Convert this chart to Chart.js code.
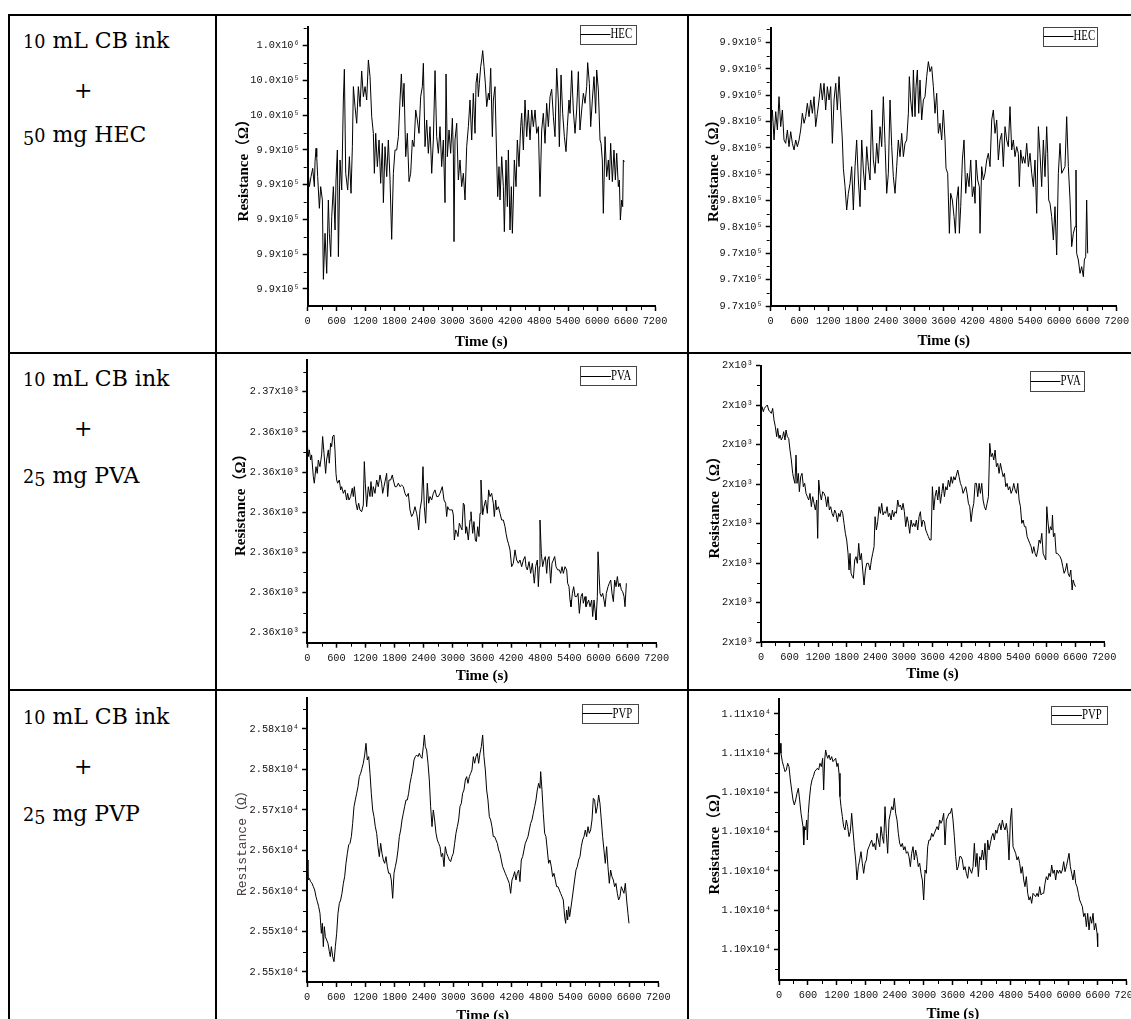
<!DOCTYPE html>
<html><head><meta charset="utf-8">
<script src="https://cdn.jsdelivr.net/npm/chart.js"></script>
<style>
html,body{margin:0;padding:0;background:#fff;}
body{width:1131px;height:1019px;position:relative;overflow:hidden;}
.ln{position:absolute;background:#000;}
.t{position:absolute;left:23px;font-family:'DejaVu Serif',serif;font-size:22px;line-height:22px;white-space:nowrap;color:#000;}
.os{font-size:0.8em;}
.dn{position:relative;top:0.17em;}
canvas{position:absolute;}
</style></head>
<body>
<div class="ln" style="left:8px;top:14px;width:1123px;height:2px"></div>
<div class="ln" style="left:8px;top:352px;width:1123px;height:2px"></div>
<div class="ln" style="left:8px;top:689px;width:1123px;height:2px"></div>
<div class="ln" style="left:8px;top:14px;width:2px;height:1005px"></div>
<div class="ln" style="left:215px;top:14px;width:2px;height:1005px"></div>
<div class="ln" style="left:687px;top:14px;width:2px;height:1005px"></div>

<div class="t" style="top:30px"><span class="os">10</span> mL CB ink</div>
<div class="t" style="top:80px;left:74px">+</div>
<div class="t" style="top:124px"><span class="os"><span class="dn">5</span>0</span> mg HEC</div>

<div class="t" style="top:368px"><span class="os">10</span> mL CB ink</div>
<div class="t" style="top:418px;left:74px">+</div>
<div class="t" style="top:465px"><span class="os">2<span class="dn">5</span></span> mg PVA</div>

<div class="t" style="top:706px"><span class="os">10</span> mL CB ink</div>
<div class="t" style="top:756px;left:74px">+</div>
<div class="t" style="top:803px"><span class="os">2<span class="dn">5</span></span> mg PVP</div>

<canvas id="c1" width="470" height="336" style="left:217px;top:16px"></canvas>
<canvas id="c2" width="442" height="336" style="left:689px;top:16px"></canvas>
<canvas id="c3" width="470" height="335" style="left:217px;top:354px"></canvas>
<canvas id="c4" width="442" height="335" style="left:689px;top:354px"></canvas>
<canvas id="c5" width="470" height="340" style="left:217px;top:691px"></canvas>
<canvas id="c6" width="442" height="340" style="left:689px;top:691px"></canvas>

<script>
// ---- data: [time (s), resistance (Ω)] ----
const hecA = [
[0,994000],[35,993400],[69,993700],[104,993950],[138,993400],[152,994150],[173,994550],[187,994300],[207,993700],[242,992750],
[269,993400],[304,993000],[325,990620],[359,992000],[394,990800],[428,993000],[449,992000],[477,991300],[498,992500],[532,993400],
[567,992100],[587,993600],[615,994500],[636,991300],[670,994200],[705,993300],[739,996000],[760,996920],[788,993800],[829,993300],
[864,994300],[898,993200],[926,994600],[947,996400],[981,995800],[1016,995300],[1050,996400],[1085,995800],[1119,996870],[1154,996100],
[1189,996400],[1223,996000],[1258,997200],[1292,996700],[1327,995500],[1361,995000],[1382,993800],[1410,995000],[1444,994000],[1479,994800],
[1513,993500],[1548,994700],[1569,992920],[1603,994600],[1638,993700],[1672,994800],[1707,993600],[1741,991820],[1776,993800],[1810,994500],
[1845,994500],[1880,994900],[1914,996000],[1942,996780],[1969,995800],[1997,996500],[2032,994300],[2066,995000],[2101,993550],[2135,993800],
[2170,994800],[2204,994600],[2239,995700],[2273,995400],[2308,995000],[2342,996100],[2377,996400],[2398,997100],[2432,994600],[2467,995400],
[2501,994400],[2536,995200],[2571,993800],[2605,994800],[2640,996880],[2674,994900],[2709,994400],[2743,995200],[2778,994000],[2812,994800],
[2847,992920],[2868,996780],[2895,994300],[2930,995100],[2964,994400],[2999,995450],[3020,994400],[3033,991750],[3054,994800],[3089,995300],
[3123,993600],[3158,994200],[3192,993400],[3227,993800],[3262,993000],[3296,994600],[3331,995200],[3365,996000],[3400,994800],[3434,996200],
[3469,995000],[3490,996500],[3517,996800],[3538,996100],[3559,996500],[3586,997000],[3607,997200],[3628,997480],[3655,997000],[3683,996500],
[3711,995800],[3745,996200],[3766,996000],[3794,996950],[3828,994900],[3849,996000],[3883,996400],[3918,994200],[3939,993100],[3966,994000],
[3987,993000],[4022,994300],[4056,993400],[4077,992050],[4111,994200],[4139,992800],[4160,994500],[4194,992100],[4222,993400],[4243,992000],
[4263,993000],[4284,994200],[4319,993400],[4346,994800],[4381,994000],[4415,995200],[4436,995600],[4471,994500],[4505,996000],[4540,994900],
[4574,995700],[4609,994800],[4644,995700],[4678,995200],[4713,995700],[4747,995000],[4782,995200],[4816,993100],[4851,995100],[4885,995600],
[4920,994700],[4954,995900],[4989,995200],[5024,996100],[5058,996320],[5093,995500],[5127,994900],[5162,996950],[5196,996000],[5217,994600],
[5252,996750],[5286,995600],[5321,994900],[5355,994450],[5383,995200],[5417,996000],[5438,995600],[5473,996880],[5507,995700],[5542,995000],
[5576,995700],[5611,996850],[5645,995100],[5680,995700],[5715,996200],[5749,995900],[5784,996400],[5804,997120],[5839,996500],[5867,995200],
[5901,996000],[5936,996700],[5970,995600],[5991,996900],[6026,996300],[6060,994800],[6081,994700],[6108,994200],[6129,992600],[6164,994900],
[6198,993700],[6233,994200],[6254,993600],[6281,994700],[6316,993550],[6350,994500],[6378,993600],[6406,994400],[6440,993400],[6461,993600],
[6482,992400],[6509,993000],[6530,992800],[6544,994200],[6565,994150]
];
const hecB = [
[0,983000],[35,984750],[69,982500],[104,984625],[139,983250],[173,985750],[208,983500],[243,984750],[277,982500],[312,982250],
[347,983250],[381,982000],[416,983125],[451,982250],[486,981750],[520,982500],[555,982000],[590,982500],[624,983250],[659,984500],
[694,983750],[728,984250],[763,985250],[798,984250],[832,985500],[867,984500],[902,985750],[936,983500],[971,984500],[1006,985500],
[1040,986750],[1075,985500],[1110,986750],[1144,984750],[1179,986500],[1214,985500],[1248,986500],[1283,982250],[1318,985500],[1353,986750],
[1387,984750],[1422,987250],[1457,984750],[1491,982500],[1512,980375],[1547,979000],[1581,977250],[1616,978500],[1651,979250],[1685,980500],
[1720,977250],[1755,980500],[1789,982500],[1824,979500],[1859,977500],[1894,982500],[1928,980250],[1963,978750],[1998,982000],[2032,980500],
[2067,979500],[2102,984750],[2136,981000],[2171,980000],[2206,982250],[2240,980750],[2275,983500],[2310,982000],[2344,985750],[2379,982250],
[2414,978500],[2448,980000],[2483,985500],[2518,982000],[2552,979750],[2587,978500],[2622,980500],[2656,982500],[2691,981250],[2726,983000],
[2761,981250],[2795,982250],[2830,982500],[2865,984500],[2885,987250],[2913,985500],[2948,984250],[2969,987750],[3003,984250],[3024,986500],
[3052,987750],[3080,984500],[3107,987000],[3142,984000],[3177,985500],[3211,985750],[3246,987250],[3281,988375],[3315,987625],[3350,988000],
[3385,986500],[3419,984500],[3454,986000],[3489,983000],[3523,983750],[3558,982500],[3593,984750],[3628,982500],[3648,980375],[3683,980000],
[3718,975500],[3745,978500],[3780,978000],[3815,976750],[3843,975500],[3870,978000],[3905,979000],[3926,975500],[3954,977500],[3988,981000],
[4023,982500],[4058,978500],[4092,980000],[4127,979000],[4162,981000],[4196,978250],[4231,979000],[4252,977750],[4273,981000],[4307,979500],
[4342,979000],[4356,975500],[4390,980500],[4425,979500],[4460,980000],[4495,981000],[4529,981500],[4564,980500],[4599,984000],[4633,984750],
[4668,983000],[4703,984000],[4737,981000],[4772,982500],[4807,983000],[4841,980500],[4876,983500],[4911,982500],[4945,982000],[4980,985000],
[5015,981750],[5049,982500],[5084,981250],[5119,982000],[5153,981500],[5174,979000],[5202,981750],[5237,980750],[5257,981250],[5292,980750],
[5327,982250],[5362,980500],[5396,981500],[5431,980000],[5466,979000],[5500,981000],[5535,977000],[5570,983500],[5604,981500],[5639,979000],
[5674,982500],[5708,979750],[5743,983500],[5764,981500],[5785,978000],[5812,977750],[5847,976750],[5882,975000],[5916,977500],[5951,973875],
[5986,980000],[6020,982250],[6055,980000],[6090,980250],[6124,980500],[6159,984250],[6194,980500],[6229,978000],[6263,974500],[6298,975500],
[6333,976000],[6353,980250],[6367,974000],[6402,973500],[6437,972500],[6471,973000],[6506,972250],[6527,973500],[6555,973750],[6575,978000],
[6596,974000]
];
const pvaA = [
[0,2364.13],[21,2363.63],[41,2363.88],[69,2363.50],[89,2363.69],[124,2362.88],[144,2362.63],[179,2363.25],[206,2363.00],[227,2363.50],
[261,2363.25],[295,2363.69],[316,2364.38],[344,2363.75],[378,2363.00],[398,2363.50],[433,2363.88],[453,2363.38],[481,2364.13],[502,2364.00],
[522,2364.38],[550,2364.44],[570,2363.88],[591,2363.00],[605,2362.75],[625,2362.63],[660,2362.75],[687,2362.38],[708,2362.50],[742,2362.25],
[776,2362.38],[811,2362.00],[831,2362.25],[859,2362.00],[893,2362.13],[927,2362.44],[948,2362.13],[969,2362.50],[1003,2361.88],[1031,2361.63],
[1058,2361.88],[1085,2361.63],[1120,2361.56],[1154,2361.81],[1175,2363.44],[1195,2362.63],[1223,2361.75],[1257,2362.50],[1292,2362.13],[1312,2362.69],
[1340,2362.13],[1360,2362.50],[1395,2362.25],[1429,2362.75],[1463,2362.50],[1498,2362.94],[1532,2362.63],[1553,2362.25],[1580,2362.50],[1608,2362.75],
[1635,2363.00],[1656,2362.13],[1683,2362.75],[1718,2362.75],[1752,2362.94],[1772,2362.75],[1807,2362.50],[1841,2362.50],[1876,2362.63],[1910,2362.50],
[1944,2362.56],[1979,2362.50],[2013,2362.25],[2047,2362.13],[2082,2362.25],[2116,2361.63],[2150,2361.38],[2185,2361.50],[2219,2361.75],[2253,2361.50],
[2274,2361.25],[2295,2360.88],[2322,2361.63],[2356,2362.00],[2384,2363.25],[2411,2361.75],[2439,2361.13],[2473,2362.63],[2501,2361.88],[2528,2362.13],
[2563,2362.00],[2597,2362.25],[2631,2362.38],[2666,2362.13],[2700,2362.13],[2734,2362.25],[2782,2362.50],[2817,2362.00],[2851,2361.88],[2872,2361.38],
[2892,2361.75],[2927,2361.63],[2954,2361.63],[2988,2361.63],[3009,2361.44],[3030,2360.50],[3057,2360.88],[3078,2360.81],[3105,2360.63],[3133,2361.13],
[3160,2361.00],[3188,2360.88],[3215,2361.88],[3236,2361.81],[3263,2360.75],[3284,2361.00],[3318,2360.50],[3353,2361.25],[3373,2361.56],[3408,2360.75],
[3435,2361.19],[3462,2360.50],[3483,2360.44],[3511,2361.00],[3538,2360.63],[3559,2361.50],[3579,2362.75],[3614,2361.44],[3641,2361.75],[3675,2362.00],
[3710,2361.50],[3737,2362.38],[3765,2362.13],[3799,2362.25],[3833,2361.88],[3854,2361.38],[3882,2362.00],[3902,2361.63],[3937,2361.75],[3971,2361.50],
[4005,2361.25],[4040,2361.25],[4074,2361.00],[4095,2360.75],[4122,2360.50],[4143,2360.38],[4177,2360.13],[4211,2359.50],[4246,2359.63],[4280,2360.13],
[4314,2359.75],[4349,2359.63],[4383,2359.75],[4417,2359.50],[4452,2359.75],[4486,2359.88],[4507,2359.50],[4534,2359.38],[4569,2359.69],[4603,2359.25],
[4637,2359.63],[4658,2359.25],[4678,2358.88],[4706,2359.50],[4740,2359.75],[4761,2358.75],[4782,2359.50],[4795,2361.25],[4823,2360.00],[4850,2359.50],
[4878,2359.75],[4905,2359.88],[4933,2359.25],[4953,2359.75],[4981,2359.88],[5015,2358.88],[5043,2359.63],[5070,2359.75],[5098,2359.88],[5125,2359.50],
[5159,2359.38],[5194,2359.38],[5221,2359.25],[5249,2359.50],[5276,2359.25],[5311,2359.50],[5345,2359.38],[5365,2358.88],[5393,2358.75],[5414,2358.25],
[5434,2358.00],[5462,2358.50],[5489,2358.75],[5517,2358.38],[5551,2358.38],[5578,2358.50],[5606,2357.75],[5640,2358.38],[5668,2358.50],[5688,2358.13],
[5723,2358.38],[5743,2358.00],[5771,2358.13],[5798,2358.25],[5826,2358.00],[5860,2358.25],[5881,2357.63],[5908,2358.25],[5936,2357.75],[5949,2357.50],
[5977,2358.38],[5991,2360.06],[6011,2359.25],[6032,2358.50],[6059,2358.38],[6087,2358.50],[6114,2358.25],[6135,2358.00],[6162,2358.50],[6197,2358.75],
[6224,2358.88],[6252,2359.00],[6279,2358.50],[6307,2358.19],[6334,2359.00],[6362,2358.75],[6389,2359.13],[6417,2358.75],[6444,2358.88],[6472,2358.63],
[6499,2358.56],[6527,2358.38],[6547,2358.00],[6575,2358.88]
];
const pvaB = [
[0,2357.85],[21,2358.00],[49,2357.85],[70,2357.95],[98,2358.00],[133,2358.05],[161,2357.90],[189,2357.85],[217,2357.80],[245,2357.95],
[273,2357.60],[301,2357.40],[329,2357.10],[350,2357.35],[378,2357.05],[399,2357.15],[427,2357.00],[455,2357.10],[476,2357.25],[504,2357.00],
[525,2357.30],[553,2357.10],[581,2357.05],[609,2356.70],[637,2356.40],[665,2356.00],[693,2355.80],[714,2355.70],[735,2356.55],[756,2355.70],
[784,2356.00],[805,2355.45],[833,2355.90],[861,2356.00],[889,2355.60],[917,2355.70],[945,2355.40],[973,2355.30],[1001,2355.20],[1029,2355.40],
[1057,2355.00],[1085,2355.30],[1113,2355.10],[1141,2354.90],[1169,2355.20],[1190,2354.05],[1211,2355.80],[1239,2355.40],[1267,2355.20],[1295,2355.45],
[1323,2355.40],[1351,2355.30],[1379,2355.00],[1407,2355.30],[1435,2354.90],[1463,2355.00],[1491,2354.80],[1519,2354.70],[1547,2354.90],[1575,2354.80],
[1603,2354.55],[1631,2354.80],[1659,2354.70],[1687,2354.90],[1715,2354.80],[1743,2354.50],[1771,2354.20],[1799,2354.00],[1827,2353.60],[1848,2353.10],
[1869,2353.60],[1890,2353.00],[1918,2352.90],[1939,2352.85],[1967,2353.40],[1995,2353.50],[2023,2353.30],[2051,2353.90],[2079,2353.40],[2107,2353.60],
[2135,2353.10],[2163,2352.65],[2191,2353.10],[2219,2353.30],[2254,2353.30],[2289,2353.10],[2317,2353.40],[2345,2353.60],[2373,2353.80],[2394,2354.70],
[2422,2354.30],[2450,2354.55],[2478,2355.00],[2506,2354.80],[2534,2355.10],[2562,2354.75],[2590,2354.85],[2618,2354.80],[2646,2355.00],[2674,2354.70],
[2702,2354.80],[2730,2354.60],[2758,2354.90],[2786,2354.70],[2814,2354.85],[2842,2354.80],[2870,2355.20],[2898,2355.00],[2926,2355.05],[2954,2354.90],
[2982,2355.10],[3010,2354.85],[3038,2354.40],[3066,2354.70],[3094,2354.50],[3122,2354.20],[3150,2354.60],[3178,2354.40],[3206,2354.50],[3234,2354.40],
[3262,2354.60],[3290,2354.30],[3318,2354.70],[3346,2354.85],[3374,2354.40],[3402,2354.60],[3430,2354.55],[3458,2354.30],[3486,2354.20],[3514,2354.10],
[3542,2354.00],[3570,2354.00],[3598,2355.60],[3626,2354.90],[3654,2355.30],[3682,2355.50],[3710,2355.20],[3738,2355.60],[3766,2355.10],[3794,2355.40],
[3822,2355.70],[3850,2355.30],[3878,2355.60],[3906,2355.50],[3934,2355.80],[3962,2355.60],[3990,2355.90],[4018,2355.70],[4046,2355.90],[4074,2355.80],
[4102,2355.95],[4130,2356.10],[4158,2355.90],[4186,2355.70],[4214,2355.60],[4242,2355.40],[4270,2355.50],[4298,2355.60],[4326,2355.40],[4354,2355.10],
[4382,2355.00],[4410,2354.55],[4438,2354.90],[4466,2355.10],[4494,2355.70],[4522,2355.70],[4550,2355.30],[4578,2355.70],[4606,2355.40],[4634,2355.70],
[4662,2355.20],[4690,2355.00],[4718,2354.90],[4746,2355.10],[4774,2355.30],[4802,2356.90],[4830,2356.50],[4858,2356.60],[4886,2356.40],[4914,2356.70],
[4942,2356.20],[4970,2356.30],[4998,2356.00],[5026,2356.30],[5054,2356.10],[5082,2355.90],[5110,2356.00],[5138,2355.60],[5166,2355.70],[5194,2355.50],
[5222,2355.60],[5250,2355.40],[5278,2355.50],[5306,2355.70],[5334,2355.50],[5362,2355.40],[5390,2355.70],[5418,2355.20],[5446,2355.00],[5474,2354.50],
[5502,2354.60],[5530,2354.40],[5558,2354.40],[5586,2354.10],[5614,2354.00],[5642,2353.90],[5670,2353.80],[5698,2353.60],[5726,2353.80],[5754,2353.60],
[5782,2353.50],[5810,2353.70],[5838,2354.00],[5866,2353.90],[5894,2354.20],[5922,2353.60],[5950,2353.50],[5978,2353.40],[5999,2355.00],[6020,2354.60],
[6048,2354.20],[6076,2354.40],[6104,2354.30],[6118,2354.75],[6139,2354.10],[6167,2354.20],[6195,2353.60],[6223,2353.60],[6251,2353.55],[6279,2353.50],
[6307,2353.40],[6335,2353.20],[6363,2353.00],[6391,2353.10],[6419,2353.30],[6447,2353.00],[6475,2352.90],[6503,2353.10],[6531,2352.50],[6552,2352.80],
[6573,2352.70],[6601,2352.60]
];
const pvpA = [
[0,25627],[20,25597],[48,25599.5],[75,25594.5],[102,25592],[130,25587],[157,25582],[184,25572],[212,25564.5],[239,25557],
[266,25547],[294,25517],[314,25532],[335,25497],[355,25527],[376,25512],[403,25507],[430,25502],[458,25489.5],[478,25482],
[499,25497],[526,25482],[553,25474.5],[581,25497],[608,25517],[635,25547],[663,25562],[690,25567],[717,25577],[745,25592],
[772,25602],[799,25622],[827,25637],[854,25649.5],[881,25652],[909,25662],[936,25682],[963,25707],[990,25717],[1018,25727],
[1045,25737],[1072,25752],[1100,25757],[1127,25764.5],[1154,25772],[1182,25784.5],[1209,25802],[1236,25777],[1264,25782],[1291,25757],
[1318,25727],[1346,25702],[1373,25692],[1400,25677],[1428,25667],[1455,25647],[1482,25632],[1510,25652],[1537,25637],[1564,25627],
[1592,25622],[1619,25632],[1646,25617],[1674,25607],[1701,25607],[1728,25597],[1756,25569.5],[1783,25607],[1810,25617],[1838,25627],
[1865,25642],[1892,25662],[1920,25672],[1947,25687],[1974,25697],[2001,25707],[2029,25717],[2056,25717],[2083,25727],[2111,25742],
[2138,25752],[2165,25762],[2193,25777],[2220,25782],[2247,25784.5],[2275,25782],[2302,25787],[2329,25782],[2357,25779.5],[2384,25797],
[2405,25814.5],[2425,25797],[2452,25792],[2480,25772],[2507,25747],[2534,25707],[2562,25677],[2589,25702],[2616,25687],[2644,25667],
[2671,25657],[2698,25652],[2726,25647],[2753,25632],[2780,25637],[2808,25617],[2835,25647],[2862,25637],[2890,25632],[2917,25627],
[2944,25624.5],[2971,25632],[2999,25637],[3026,25652],[3053,25667],[3081,25677],[3108,25687],[3135,25707],[3163,25712],[3190,25727],
[3217,25732],[3245,25747],[3272,25752],[3299,25742],[3327,25752],[3354,25757],[3381,25762],[3409,25782],[3436,25772],[3463,25782],
[3491,25787],[3518,25772],[3545,25787],[3573,25797],[3600,25814.5],[3627,25782],[3655,25762],[3682,25732],[3709,25717],[3737,25692],
[3764,25687],[3791,25677],[3819,25662],[3846,25662],[3873,25657],[3901,25652],[3928,25642],[3955,25637],[3982,25627],[4010,25617],
[4037,25612],[4064,25607],[4092,25602],[4119,25597],[4146,25592],[4174,25577],[4201,25597],[4228,25602],[4256,25609.5],[4283,25597],
[4310,25607],[4338,25612],[4365,25594.5],[4392,25627],[4420,25632],[4447,25642],[4474,25652],[4502,25657],[4529,25662],[4556,25672],
[4584,25682],[4611,25687],[4638,25697],[4666,25707],[4693,25717],[4720,25732],[4748,25742],[4775,25734.5],[4789,25759.5],[4816,25732],
[4843,25697],[4871,25667],[4898,25662],[4925,25642],[4952,25622],[4980,25627],[5007,25617],[5034,25602],[5062,25607],[5089,25597],
[5116,25587],[5144,25587],[5171,25582],[5198,25577],[5226,25572],[5253,25567],[5280,25542],[5301,25532],[5321,25552],[5342,25537],
[5362,25557],[5383,25542],[5403,25552],[5431,25567],[5458,25582],[5485,25597],[5513,25612],[5540,25617],[5567,25627],[5595,25632],
[5622,25647],[5649,25657],[5677,25662],[5704,25672],[5731,25662],[5759,25677],[5786,25667],[5813,25672],[5841,25687],[5868,25719.5],
[5895,25717],[5922,25697],[5950,25707],[5977,25724.5],[6004,25712],[6032,25687],[6059,25662],[6086,25642],[6114,25622],[6141,25647],
[6168,25617],[6196,25592],[6223,25612],[6250,25602],[6278,25597],[6305,25587],[6332,25592],[6360,25577],[6387,25567],[6414,25572],
[6442,25587],[6469,25582],[6496,25577],[6524,25592],[6551,25567],[6578,25547],[6599,25532]
];
const pvpB = [
[0,11053.5],[21,11056],[41,11053],[69,11050.5],[97,11049],[124,11047.5],[152,11048],[179,11050],[207,11049],[235,11045],
[262,11042],[290,11039],[318,11037.5],[345,11039],[373,11041],[400,11042.5],[428,11039],[456,11035],[476,11035],[497,11031],
[511,11025.5],[532,11031],[552,11030],[573,11033],[587,11027],[607,11035],[628,11039],[656,11043],[683,11045],[711,11046],
[739,11047.5],[766,11048],[794,11048.5],[821,11048],[849,11050],[877,11049],[904,11051.5],[925,11042],[946,11051],[966,11054],
[987,11052.5],[1008,11051.5],[1035,11052.5],[1063,11051],[1091,11052],[1118,11050.5],[1146,11051],[1174,11051.5],[1201,11049],[1222,11050],
[1243,11047],[1263,11040],[1284,11037],[1312,11034],[1339,11031],[1367,11030],[1394,11033],[1422,11031],[1450,11028],[1477,11029.5],
[1505,11035],[1532,11030],[1560,11025],[1588,11021],[1615,11015],[1643,11019],[1671,11021],[1698,11023.5],[1726,11020],[1753,11017],
[1781,11020],[1809,11021],[1836,11024],[1864,11025],[1891,11026],[1919,11027],[1947,11025],[1974,11026],[2002,11024],[2029,11029],
[2057,11027],[2085,11025],[2112,11031],[2140,11028],[2168,11026],[2195,11037],[2223,11029],[2250,11023],[2278,11033],[2306,11035],
[2333,11037],[2361,11036],[2388,11039.5],[2416,11035],[2444,11033],[2471,11029],[2499,11026],[2526,11025],[2554,11026],[2582,11024],
[2609,11025],[2637,11023],[2665,11023.5],[2692,11022],[2720,11019],[2747,11023],[2775,11025],[2803,11021],[2830,11024],[2858,11022],
[2885,11019],[2913,11020],[2941,11017],[2968,11015],[2996,11009],[3024,11018],[3051,11017],[3079,11025],[3106,11027],[3134,11027],
[3162,11029],[3189,11028],[3217,11029],[3244,11030],[3272,11031],[3300,11030],[3327,11033],[3355,11032],[3382,11033],[3410,11035],
[3438,11025.5],[3465,11033],[3493,11034],[3521,11035],[3548,11035],[3576,11036.5],[3603,11033],[3631,11028],[3659,11022],[3686,11018],
[3714,11019],[3741,11022],[3769,11022],[3797,11021],[3824,11018],[3852,11019],[3879,11017],[3907,11015.5],[3935,11019],[3962,11018],
[3990,11017],[4018,11019],[4045,11026],[4073,11019],[4100,11023],[4128,11016],[4156,11022],[4183,11021],[4211,11024],[4238,11021],
[4266,11026],[4294,11018],[4321,11027],[4349,11024],[4377,11026],[4404,11028],[4432,11029],[4459,11027],[4487,11030],[4515,11029],
[4542,11031],[4570,11032],[4597,11030],[4625,11033],[4653,11031],[4680,11030],[4708,11032],[4735,11029],[4763,11021],[4791,11033],
[4818,11036.5],[4846,11025],[4874,11024],[4901,11023],[4929,11021],[4956,11022],[4984,11020],[5012,11017],[5039,11019],[5067,11015],
[5094,11013],[5122,11016],[5150,11011],[5177,11009],[5205,11010],[5232,11008],[5260,11011],[5288,11010.5],[5315,11010],[5343,11011],
[5371,11010],[5398,11013],[5426,11010.5],[5453,11011],[5481,11011],[5509,11014],[5536,11016],[5564,11015],[5591,11017],[5619,11016],
[5647,11019.5],[5674,11017],[5702,11018],[5729,11015],[5757,11018],[5785,11017],[5812,11018],[5840,11017],[5868,11018],[5895,11020.5],
[5923,11017.5],[5950,11019],[5978,11021],[6006,11023],[6033,11019],[6061,11017],[6088,11015],[6116,11018],[6144,11014],[6171,11013],
[6199,11011],[6226,11009],[6254,11008],[6282,11007],[6309,11004],[6337,11005],[6365,11001],[6392,11005],[6420,11000],[6447,11004],
[6475,11002],[6503,11005],[6530,11000],[6558,11002],[6586,10999],[6599,10995]
];

// ---- axis ticks & labels ----
const hecA_yTicks = [990330, 991373, 992416, 993459, 994501, 995544, 996587, 997630];
const hecA_yLabels = ['9.9x10⁵','9.9x10⁵','9.9x10⁵','9.9x10⁵','9.9x10⁵','10.0x10⁵','10.0x10⁵','1.0x10⁶'];
const hecB_yTicks = [970050, 972025, 974000, 975975, 977950, 979925, 981900, 983875, 985850, 987825, 989800];
const hecB_yLabels = ['9.7x10⁵','9.7x10⁵','9.7x10⁵','9.8x10⁵','9.8x10⁵','9.8x10⁵','9.8x10⁵','9.8x10⁵','9.9x10⁵','9.9x10⁵','9.9x10⁵'];
const pvaA_yTicks = [2357.025, 2358.531, 2360.038, 2361.544, 2363.05, 2364.556, 2366.063];
const pvaA_yLabels = ['2.36x10³','2.36x10³','2.36x10³','2.36x10³','2.36x10³','2.36x10³','2.37x10³'];
const pvaB_yTicks = [2350.94, 2352.124, 2353.309, 2354.493, 2355.677, 2356.861, 2358.046, 2359.23];
const pvaB_yLabels = ['2x10³','2x10³','2x10³','2x10³','2x10³','2x10³','2x10³','2x10³'];
const pvpA_yTicks = [25459, 25519.75, 25580.5, 25641.25, 25702, 25762.75, 25823.5];
const pvpA_yLabels = ['2.55x10⁴','2.55x10⁴','2.56x10⁴','2.56x10⁴','2.57x10⁴','2.58x10⁴','2.58x10⁴'];
const pvpB_yTicks = [10994.2, 11005.97, 11017.73, 11029.5, 11041.27, 11053.03, 11064.8];
const pvpB_yLabels = ['1.10x10⁴','1.10x10⁴','1.10x10⁴','1.10x10⁴','1.10x10⁴','1.11x10⁴','1.11x10⁴'];
const timeRange = [0, 7200];
const timeStep = 600;

const xTitle = 'Time (s)';
const yTitle = 'Resistance（Ω）';

// ---- layout (page px) ----
const serifBold = {family: "'Liberation Serif', 'Noto Sans CJK SC', serif", size: 15, weight: 'bold'};
const monoPlain = {family: "'Liberation Mono', 'Noto Sans CJK SC', monospace", size: 13, weight: 'normal'};
const specs = [
  {id:'c1', name:'HEC', data:hecA, yr:[989820, 998180], ticks:hecA_yTicks, labels:hecA_yLabels,
   box:[217,16,470,336], plot:[307.7,27.3,655,306], yTX:244.5, xTY:342, leg:[579.5,24.5,635,43], yFont:serifBold, yColor:'#000'},
  {id:'c2', name:'HEC', data:hecB, yr:[970050, 990875], ticks:hecB_yTicks, labels:hecB_yLabels,
   box:[689,16,442,336], plot:[770.7,28.3,1116.7,306], yTX:714, xTY:341, leg:[1042.5,26.5,1096.5,45], yFont:serifBold, yColor:'#000'},
  {id:'c3', name:'PVA', data:pvaA, yr:[2356.65, 2367.25], ticks:pvaA_yTicks, labels:pvaA_yLabels,
   box:[217,354,470,335], plot:[307.3,360,656.7,642.7], yTX:241.5, xTY:676, leg:[580,366,635.5,385], yFont:serifBold, yColor:'#000'},
  {id:'c4', name:'PVA', data:pvaB, yr:[2350.94, 2359.23], ticks:pvaB_yTicks, labels:pvaB_yLabels,
   box:[689,354,442,335], plot:[761,365.7,1104,642], yTX:715, xTY:674, leg:[1029.5,370.5,1083.5,390.5], yFont:serifBold, yColor:'#000'},
  {id:'c5', name:'PVP', data:pvpA, yr:[25444, 25869.5], ticks:pvpA_yTicks, labels:pvpA_yLabels,
   box:[217,691,470,340], plot:[307,698.3,658.3,982], yTX:242.5, xTY:1016, leg:[581.5,704,637.5,722.5], yFont:monoPlain, yColor:'#4a4040'},
  {id:'c6', name:'PVP', data:pvpB, yr:[10985, 11069.2], ticks:pvpB_yTicks, labels:pvpB_yLabels,
   box:[689,691,442,340], plot:[779,699.3,1126.7,980], yTX:714.7, xTY:1014, leg:[1051,706,1106.5,723.5], yFont:serifBold, yColor:'#000'}
];

const tickFont = {family: "'Liberation Mono', monospace", size: 10.3};
const xTitleFont = {family: "'Liberation Serif', serif", size: 15, weight: 'bold'};

const minorTicks = {
  id: 'minorTicks',
  afterDraw(chart) {
    const ctx = chart.ctx, xs = chart.scales.x, ys = chart.scales.y, a = chart.chartArea;
    ctx.save();
    ctx.strokeStyle = '#000';
    ctx.lineWidth = 1;
    ctx.beginPath();
    for (let v = timeRange[0] + timeStep / 2; v < timeRange[1]; v += timeStep) {
      const px = Math.round(xs.getPixelForValue(v)) + 0.5;
      ctx.moveTo(px, a.bottom + 1);
      ctx.lineTo(px, a.bottom + 4);
    }
    const tv = ys.ticks.map(t => t.value);
    const mids = [];
    for (let i = 0; i < tv.length - 1; i++) mids.push((tv[i] + tv[i + 1]) / 2);
    mids.push(tv[0] - (tv[1] - tv[0]) / 2);
    mids.push(tv[tv.length - 1] + (tv[tv.length - 1] - tv[tv.length - 2]) / 2);
    mids.forEach(v => {
      if (v >= ys.min && v <= ys.max) {
        const py = Math.round(ys.getPixelForValue(v)) + 0.5;
        ctx.moveTo(a.left - 4, py);
        ctx.lineTo(a.left - 1, py);
      }
    });
    ctx.stroke();
    ctx.restore();
  }
};

const boxLegend = {
  id: 'boxLegend',
  afterDraw(chart, args, opts) {
    const ctx = chart.ctx;
    const x0 = opts.rect[0] - opts.ox, y0 = opts.rect[1] - opts.oy;
    const x1 = opts.rect[2] - opts.ox, y1 = opts.rect[3] - opts.oy;
    ctx.save();
    ctx.strokeStyle = '#444';
    ctx.lineWidth = 1;
    ctx.strokeRect(Math.round(x0) + 0.5, Math.round(y0) + 0.5, Math.round(x1 - x0), Math.round(y1 - y0));
    const ym = Math.round((y0 + y1) / 2) + 0.5;
    ctx.strokeStyle = '#000';
    ctx.beginPath();
    ctx.moveTo(x0 + 1, ym);
    ctx.lineTo(x0 + 31, ym);
    ctx.stroke();
    ctx.fillStyle = '#000';
    ctx.font = "15px 'Liberation Serif', serif";
    ctx.textBaseline = 'middle';
    ctx.translate(x0 + 31, (y0 + y1) / 2 + 0.5);
    ctx.scale(0.72, 1);
    ctx.fillText(chart.data.datasets[0].label, 0, 0);
    ctx.restore();
  }
};

specs.forEach(s => {
  const [L, T, W, H] = s.box;
  const [px0, py0, px1, py1] = s.plot;
  const yLh = s.yFont.size * 1.2;
  const xLh = xTitleFont.size * 1.2;
  new Chart(document.getElementById(s.id).getContext('2d'), {
    type: 'line',
    data: {
      datasets: [{
        label: s.name,
        data: s.data.map(p => ({x: p[0], y: p[1]})),
        borderColor: '#000',
        borderWidth: 1,
        pointRadius: 0,
        tension: 0,
        fill: false
      }]
    },
    options: {
      responsive: false,
      animation: false,
      devicePixelRatio: 1,
      layout: {padding: {left: 0, top: py0 - T, right: (L + W) - px1, bottom: 0}},
      plugins: {
        legend: {display: false},
        tooltip: {enabled: false},
        boxLegend: {rect: s.leg, ox: L, oy: T}
      },
      scales: {
        x: {
          type: 'linear', min: timeRange[0], max: timeRange[1],
          ticks: {stepSize: timeStep, autoSkip: false, maxRotation: 0, padding: 4, color: '#111', font: tickFont,
                  callback: v => String(v)},
          grid: {drawOnChartArea: false, drawTicks: true, tickLength: 5, tickColor: '#000', tickWidth: 1.5},
          border: {display: true, color: '#000', width: 2},
          title: {display: true, text: xTitle, font: xTitleFont, color: '#000',
                  padding: {top: 0, bottom: (T + H) - s.xTY - xLh / 2}},
          afterFit(sc) { sc.height = (T + H) - py1; sc.paddingLeft = 0; sc.paddingRight = 0; }
        },
        y: {
          type: 'linear', min: s.yr[0], max: s.yr[1],
          afterBuildTicks(sc) { sc.ticks = s.ticks.map(v => ({value: v})); },
          ticks: {autoSkip: false, padding: 3, color: '#111', font: tickFont,
                  callback: (v, i) => s.labels[i]},
          grid: {drawOnChartArea: false, drawTicks: true, tickLength: 5, tickColor: '#000', tickWidth: 1.5},
          border: {display: true, color: '#000', width: 2},
          title: {display: true, text: yTitle, font: s.yFont, color: s.yColor,
                  padding: {top: s.yTX - L - yLh / 2, bottom: 0}},
          afterFit(sc) { sc.width = px0 - L; sc.paddingTop = 0; sc.paddingBottom = 0; }
        }
      }
    },
    plugins: [minorTicks, boxLegend]
  });
});
</script>
</body></html>
